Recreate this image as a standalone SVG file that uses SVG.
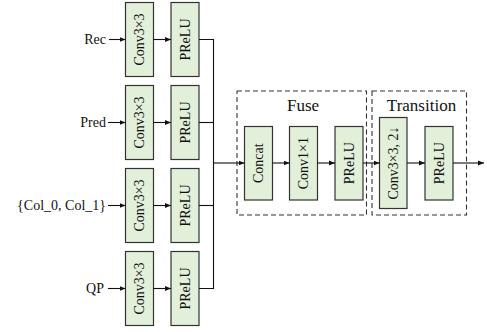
<svg xmlns="http://www.w3.org/2000/svg" width="487" height="332" viewBox="0 0 487 332">
<style>
.box{fill:#e2efd9;stroke:#333;stroke-width:1.2}
.grp{fill:none;stroke:#333;stroke-width:1.1;stroke-dasharray:5,3}
.ln{fill:none;stroke:#111;stroke-width:1.1}
.t{font-family:"Liberation Serif","Times New Roman",serif;font-size:14px;fill:#111;text-anchor:middle;dominant-baseline:central}
.lbl{font-family:"Liberation Serif","Times New Roman",serif;font-size:14px;fill:#111;text-anchor:end;dominant-baseline:central}
.h{font-family:"Liberation Serif","Times New Roman",serif;font-size:17px;fill:#111;text-anchor:middle}
</style>
<defs>
<marker id="ah" viewBox="0 0 6 6" refX="6" refY="3" markerWidth="6" markerHeight="6" markerUnits="userSpaceOnUse" orient="auto">
<path d="M0,0.5 L6,3 L0,5.5 Z" fill="#111"/>
</marker>
</defs>
<g id="groups">
<g id="fuse"><rect class="grp" x="237" y="91" width="129.5" height="124"/><text class="h" x="303" y="111">Fuse</text></g>
<g id="transition"><rect class="grp" x="372" y="91" width="94.5" height="124"/><text class="h" x="421.5" y="111">Transition</text></g>
</g>
<g id="labels">
<text class="lbl" x="106" y="39.5">Rec</text>
<text class="lbl" x="106" y="122.5">Pred</text>
<text class="lbl" x="106" y="205.5">{Col_0, Col_1}</text>
<text class="lbl" x="104" y="288.5">QP</text>
</g>
<g id="conv1"><rect class="box" x="125.5" y="2.5" width="28" height="74"/><text class="t" transform="translate(139.5,39.5) rotate(-90)">Conv3×3</text></g>
<g id="prelu1"><rect class="box" x="171" y="2.5" width="28" height="74"/><text class="t" transform="translate(185,39.5) rotate(-90)">PReLU</text></g>
<g id="conv2"><rect class="box" x="125.5" y="85.5" width="28" height="74"/><text class="t" transform="translate(139.5,122.5) rotate(-90)">Conv3×3</text></g>
<g id="prelu2"><rect class="box" x="171" y="85.5" width="28" height="74"/><text class="t" transform="translate(185,122.5) rotate(-90)">PReLU</text></g>
<g id="conv3"><rect class="box" x="125.5" y="168.5" width="28" height="74"/><text class="t" transform="translate(139.5,205.5) rotate(-90)">Conv3×3</text></g>
<g id="prelu3"><rect class="box" x="171" y="168.5" width="28" height="74"/><text class="t" transform="translate(185,205.5) rotate(-90)">PReLU</text></g>
<g id="conv4"><rect class="box" x="125.5" y="251.5" width="28" height="74"/><text class="t" transform="translate(139.5,288.5) rotate(-90)">Conv3×3</text></g>
<g id="prelu4"><rect class="box" x="171" y="251.5" width="28" height="74"/><text class="t" transform="translate(185,288.5) rotate(-90)">PReLU</text></g>
<g id="concat"><rect class="box" x="244.5" y="126.5" width="28" height="73.5"/><text class="t" transform="translate(258.5,163.2) rotate(-90)">Concat</text></g>
<g id="conv1x1"><rect class="box" x="289.5" y="126.5" width="28" height="73.5"/><text class="t" transform="translate(303.5,163.2) rotate(-90)">Conv1×1</text></g>
<g id="prelu5"><rect class="box" x="335" y="126.5" width="28" height="73.5"/><text class="t" transform="translate(349,163.2) rotate(-90)">PReLU</text></g>
<g id="convds"><rect class="box" x="379.5" y="117.5" width="27.5" height="91"/><text class="t" transform="translate(393.2,163) rotate(-90)">Conv3×3, 2↓</text></g>
<g id="prelu6"><rect class="box" x="425" y="126.5" width="28" height="73.5"/><text class="t" transform="translate(439,163.2) rotate(-90)">PReLU</text></g>
<g id="connectors">
<line class="ln" x1="109" y1="39.5" x2="125.5" y2="39.5" marker-end="url(#ah)"/>
<line class="ln" x1="108" y1="122.5" x2="125.5" y2="122.5" marker-end="url(#ah)"/>
<line class="ln" x1="108" y1="205.5" x2="125.5" y2="205.5" marker-end="url(#ah)"/>
<line class="ln" x1="108" y1="288.5" x2="125.5" y2="288.5" marker-end="url(#ah)"/>
<line class="ln" x1="153.5" y1="39.5" x2="171" y2="39.5" marker-end="url(#ah)"/>
<line class="ln" x1="153.5" y1="122.5" x2="171" y2="122.5" marker-end="url(#ah)"/>
<line class="ln" x1="153.5" y1="205.5" x2="171" y2="205.5" marker-end="url(#ah)"/>
<line class="ln" x1="153.5" y1="288.5" x2="171" y2="288.5" marker-end="url(#ah)"/>
<path class="ln" d="M199,39.5 H213.5 V288.5 H199"/>
<line class="ln" x1="199" y1="122.5" x2="213.5" y2="122.5"/>
<line class="ln" x1="199" y1="205.5" x2="213.5" y2="205.5"/>
<line class="ln" x1="213.5" y1="163" x2="244.5" y2="163" marker-end="url(#ah)"/>
<line class="ln" x1="272.5" y1="163" x2="289.5" y2="163" marker-end="url(#ah)"/>
<line class="ln" x1="317.5" y1="163" x2="335" y2="163" marker-end="url(#ah)"/>
<line class="ln" x1="363" y1="163" x2="379.5" y2="163" marker-end="url(#ah)"/>
<line class="ln" x1="407" y1="163" x2="425" y2="163" marker-end="url(#ah)"/>
<line class="ln" x1="453" y1="163" x2="484" y2="163" marker-end="url(#ah)"/>
</g>
</svg>
